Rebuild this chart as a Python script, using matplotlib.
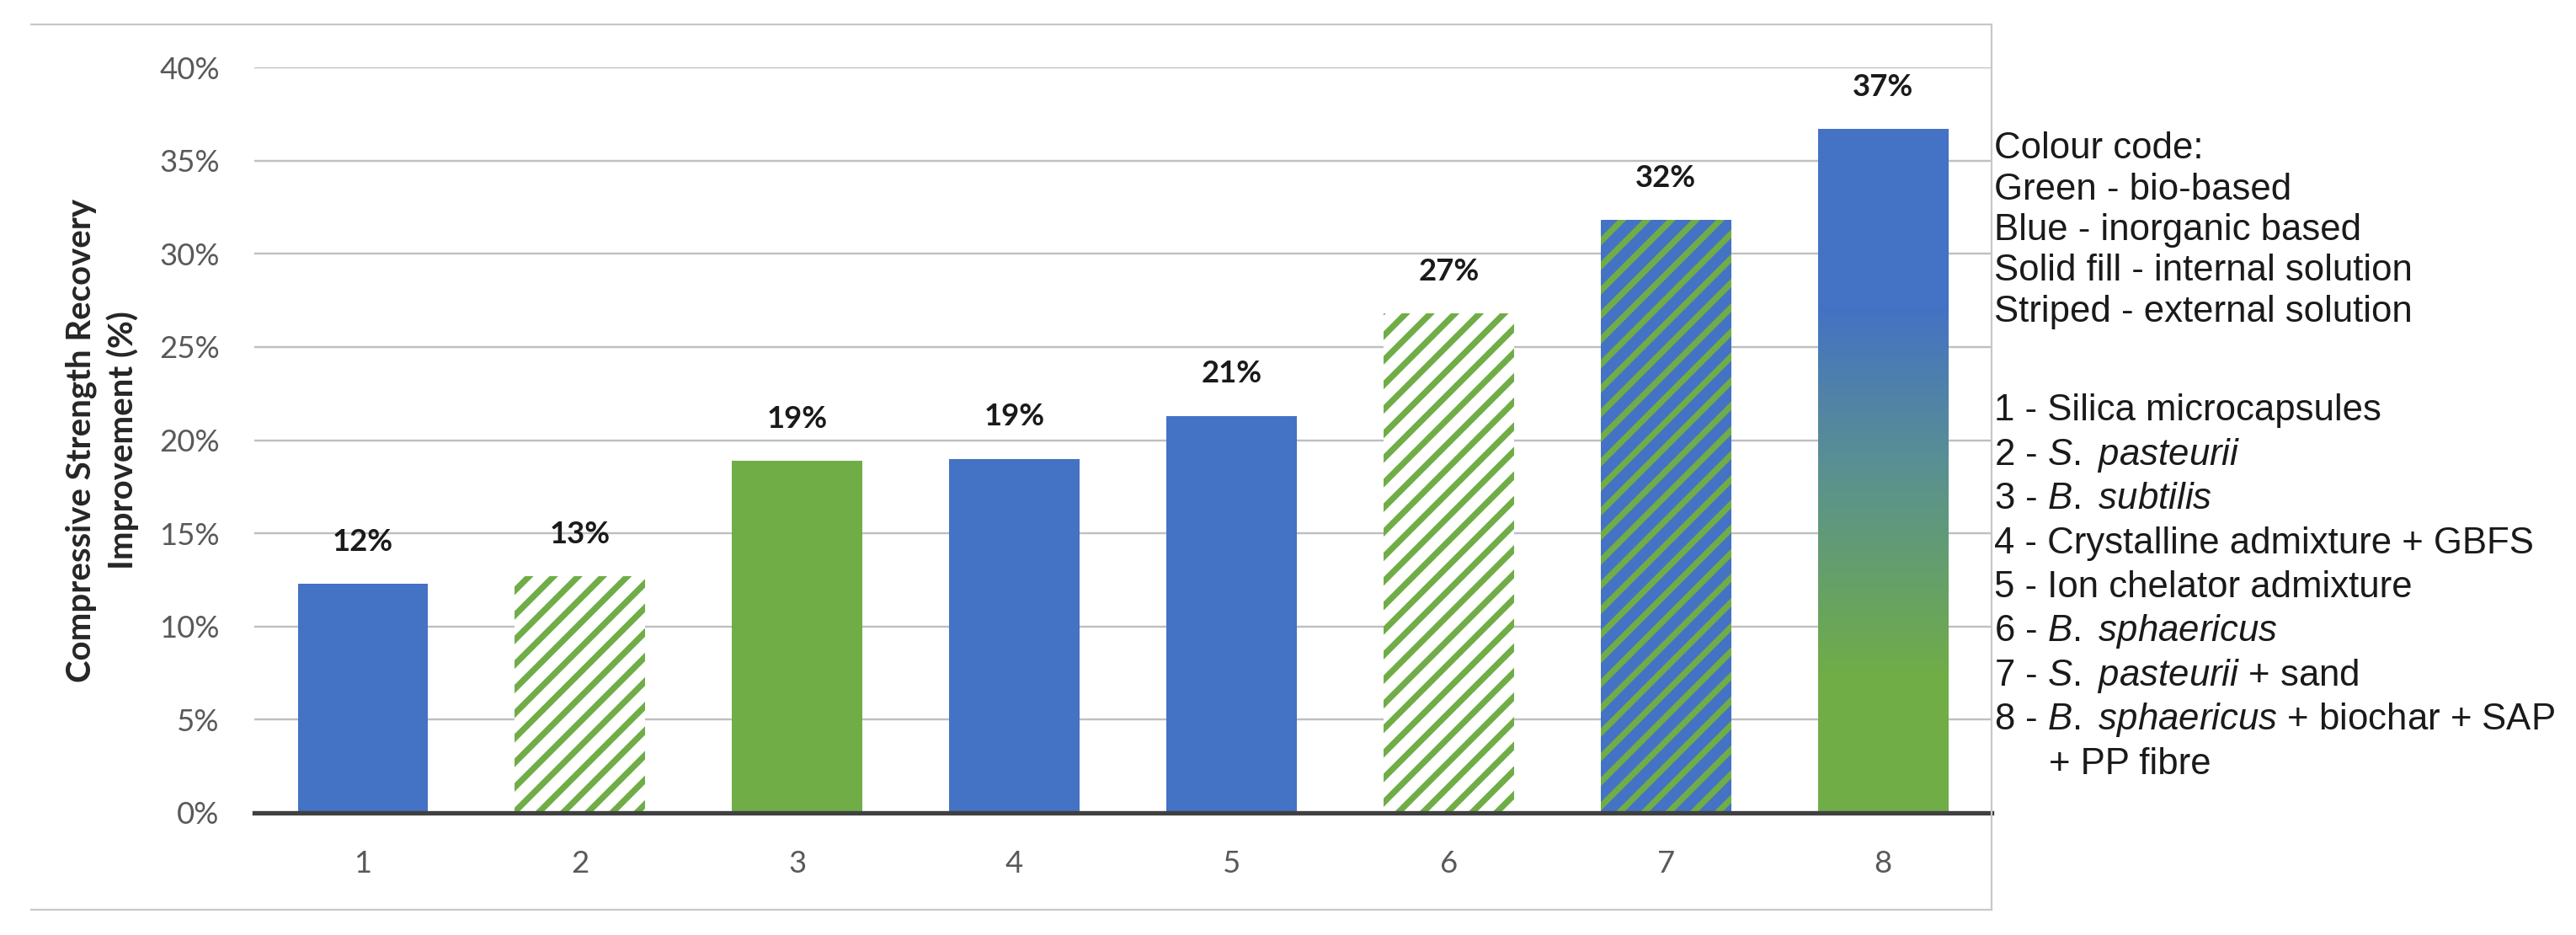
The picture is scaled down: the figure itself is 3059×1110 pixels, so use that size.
"""
Bar chart of compressive strength recovery improvement for eight
self-healing concrete solutions, with a colour-code key on the right.
"""

import matplotlib

matplotlib.use("Agg")

import matplotlib.pyplot as plt
import numpy as np
from matplotlib.colors import LinearSegmentedColormap
from matplotlib.lines import Line2D
from matplotlib.ticker import FuncFormatter


CATEGORIES = ["1", "2", "3", "4", "5", "6", "7", "8"]
RECOVERY = [12.3, 12.7, 18.9, 19.0, 21.3, 26.8, 31.8, 36.7]
BAR_STYLE = ["blue", "green_striped", "green", "blue", "blue", "green_striped", "blue_striped", "gradient"]
Y_TICKS = [0, 5, 10, 15, 20, 25, 30, 35, 40]

COLOUR_CODE = [
	"Colour code:",
	"Green - bio-based",
	"Blue - inorganic based",
	"Solid fill - internal solution",
	"Striped - external solution",
]
SOLUTIONS = [
	"1 - Silica microcapsules",
	r"2 - $\mathit{S.\ pasteurii}$",
	r"3 - $\mathit{B.\ subtilis}$",
	"4 - Crystalline admixture + GBFS",
	"5 - Ion chelator admixture",
	r"6 - $\mathit{B.\ sphaericus}$",
	r"7 - $\mathit{S.\ pasteurii}$ + sand",
	r"8 - $\mathit{B.\ sphaericus}$ + biochar + SAP",
]
SOLUTIONS_TAIL = "+ PP fibre"

BLUE = "#4472C4"
GREEN = "#70AD47"
TICK_GREY = "#595959"

DPI = 175
W_PX, H_PX = 3059, 1110

# plot area in pixels of the final image
AX_LEFT, AX_RIGHT, AX_TOP, AX_BOTTOM = 302, 2365, 80, 965


def fx(px: float) -> float:
	return px / W_PX


def fy(px: float) -> float:
	return 1 - px / H_PX


plt.rcParams["hatch.linewidth"] = 3.0
plt.rcParams["mathtext.fontset"] = "custom"
plt.rcParams["mathtext.rm"] = "Liberation Sans"
plt.rcParams["mathtext.it"] = "Liberation Sans:italic"

fig = plt.figure(figsize=(W_PX / DPI, H_PX / DPI), dpi=DPI)
ax = fig.add_axes([fx(AX_LEFT), fy(AX_BOTTOM), fx(AX_RIGHT) - fx(AX_LEFT), fy(AX_TOP) - fy(AX_BOTTOM)])

x = np.arange(len(CATEGORIES))
width = 0.6

for i, (value, style) in enumerate(zip(RECOVERY, BAR_STYLE)):
	if style == "blue":
		ax.bar(x[i], value, width, color=BLUE, linewidth=0, zorder=2)
	elif style == "green":
		ax.bar(x[i], value, width, color=GREEN, linewidth=0, zorder=2)
	elif style == "green_striped":
		ax.bar(x[i], value, width, facecolor="white", edgecolor=GREEN, hatch="//", linewidth=0, zorder=2)
	elif style == "blue_striped":
		ax.bar(x[i], value, width, facecolor=BLUE, edgecolor=GREEN, hatch="//", linewidth=0, zorder=2)
	elif style == "gradient":
		bars = ax.bar(x[i], value, width, facecolor="none", linewidth=0, zorder=2)
		cmap = LinearSegmentedColormap.from_list(
			"bio_inorganic",
			[(0.0, GREEN), (0.2, GREEN), (0.5, "#5A9190"), (0.74, BLUE), (1.0, BLUE)],
		)
		grad = np.linspace(0, 1, 256).reshape(-1, 1)
		img = ax.imshow(
			grad,
			cmap=cmap,
			origin="lower",
			aspect="auto",
			extent=[x[i] - width / 2, x[i] + width / 2, 0, value],
			zorder=2,
		)
		img.set_clip_path(bars[0])

	ax.annotate(
		f"{value:.0f}%",
		(x[i], value),
		xytext=(0, 20.5),
		textcoords="offset points",
		ha="center",
		va="center",
		fontsize=15,
		fontweight="bold",
		family="Lato",
		color="#1a1a1a",
	)

ax.set_xlim(-0.5, len(CATEGORIES) - 0.5)
ax.set_ylim(0, 40)
ax.set_xticks(x)
ax.set_xticklabels(CATEGORIES)
ax.set_yticks(Y_TICKS)
ax.yaxis.set_major_formatter(FuncFormatter(lambda v, _: f"{v:.0f}%"))

for label in ax.get_xticklabels() + ax.get_yticklabels():
	label.set_family("Lato")
	label.set_fontsize(15)
	label.set_color(TICK_GREY)

ax.tick_params(axis="both", length=0)
ax.tick_params(axis="y", pad=17)
ax.tick_params(axis="x", pad=18)

ax.grid(axis="y", color="#BFBFBF", linewidth=1.0)
ax.set_axisbelow(True)
for side in ["top", "right", "left"]:
	ax.spines[side].set_visible(False)
ax.spines["bottom"].set_color("#404040")
ax.spines["bottom"].set_linewidth(2.2)
ax.spines["bottom"].set_zorder(3)

ax.set_ylabel(
	"Compressive Strength Recovery\nImprovement (%)",
	family="Lato",
	fontweight="bold",
	fontsize=16.5,
	color="#262626",
	linespacing=1.35,
)
# right edge of the rotated label block sits at x = 165 px
ax.yaxis.set_label_coords((165 - AX_LEFT) / (AX_RIGHT - AX_LEFT), 0.5)

# chart border (top, bottom, right)
border = dict(color="#C8C8C8", linewidth=0.9, transform=fig.transFigure)
fig.add_artist(Line2D([fx(37), fx(AX_RIGHT)], [fy(29), fy(29)], **border))
fig.add_artist(Line2D([fx(37), fx(AX_RIGHT)], [fy(1080), fy(1080)], **border))
fig.add_artist(Line2D([fx(AX_RIGHT), fx(AX_RIGHT)], [fy(29), fy(1080)], **border))

# colour-code key
key_style = dict(family="Liberation Sans", fontsize=18, color="#1a1a1a", va="center", ha="left")
for k, line in enumerate(COLOUR_CODE):
	fig.text(fx(2368), fy(177 + 48.3 * k), line, **key_style)
for k, line in enumerate(SOLUTIONS):
	fig.text(fx(2368), fy(488 + 52.4 * k), line, **key_style)
fig.text(fx(2433), fy(488 + 52.4 * len(SOLUTIONS)), SOLUTIONS_TAIL, **key_style)

fig.savefig("out.png", dpi=DPI, facecolor="white")
